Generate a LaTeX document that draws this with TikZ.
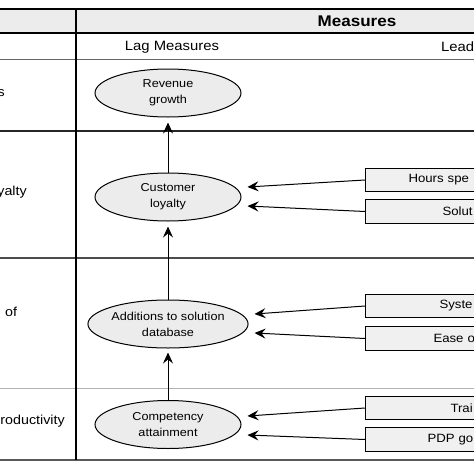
\documentclass[tikz,border=0pt]{standalone}
\usepackage{fontspec}
\setmainfont[FakeStretch=1.1]{Liberation Sans}
\usetikzlibrary{arrows.meta,calc,shapes.geometric}
\begin{document}
\begin{tikzpicture}[x=1pt,y=-1pt,
  ell/.style={ellipse, draw=black, line width=1pt, fill=gray!15, minimum width=146pt, minimum height=48pt, inner sep=0pt, align=center, font=\fontsize{11.5}{16}\selectfont},
  bx/.style={rectangle, draw=black, line width=1pt, fill=gray!12, anchor=west, minimum height=23.5pt, text width=200pt, align=left, inner sep=0pt, font=\fontsize{12}{14}\selectfont},
  arr/.style={-{Stealth[length=11pt,width=10pt,inset=4pt]}, line width=1pt},
  lbl/.style={inner sep=0pt, font=\fontsize{13}{15}\selectfont},
  hdr/.style={inner sep=0pt, font=\fontsize{13.5}{15}\selectfont}]
\useasboundingbox (0,0) rectangle (474,474);
\clip (0,0) rectangle (474,474);
% header fill
\fill[gray!15] (0,9) rectangle (474,33);
% table rules
\draw[line width=1.5pt] (0,9) -- (474,9);
\draw[line width=1.5pt] (0,33) -- (474,33);
\draw[line width=0.9pt, black!60] (0,59) -- (474,59);
\draw[line width=1.3pt, black!85] (0,131) -- (474,131);
\draw[line width=1.1pt, black!70] (0,258) -- (474,258);
\draw[line width=0.9pt, black!30] (0,388) -- (474,388);
\draw[line width=1.3pt, black!65] (0,460) -- (474,460);
\draw[line width=1.5pt] (76,9) -- (76,460);
% header texts
\node[hdr, font=\fontsize{15.5}{17}\bfseries] (meas) at (357,21) {Measures};
\node[hdr] (lag) at (172,47) {Lag Measures};
\node[hdr, anchor=west] (lead) at (441,47) {Lead};
% left column fragments
\node[lbl, anchor=east] (l1) at (5,93) {s};
\node[lbl, anchor=east] (l2) at (27,192) {yalty};
\node[lbl, anchor=west] (l3) at (5,312) {of};
\node[lbl, anchor=east] (l4) at (65,421) {roductivity};
% ellipses
\node[ell] (rev) at (168,93) {Revenue\\growth};
\node[ell] (cust) at (168,197) {Customer\\loyalty};
\node[ell] (add) at (168,324) {Additions to solution\\database};
\node[ell] (comp) at (168,424.5) {Competency\\attainment};
% boxes
\node[bx] (hours) at (365,180) {\hspace*{43pt}Hours spe};
\node[bx] (solut) at (365,211.5) {\hspace*{77pt}Solut};
\node[bx] (syst) at (365,306) {\hspace*{74pt}Syste};
\node[bx] (ease) at (365,338.5) {\hspace*{68pt}Ease o};
\node[bx] (trai) at (365,408) {\hspace*{85pt}Trai};
\node[bx] (pdp) at (365,439.5) {\hspace*{62pt}PDP go};
% arrow targets
\coordinate (t1) at ($(cust.east)+(6,-10)$);
\coordinate (t2) at ($(cust.east)+(6,9)$);
\coordinate (t3) at ($(add.east)+(6,-10)$);
\coordinate (t4) at ($(add.east)+(6,9)$);
\coordinate (t5) at ($(comp.east)+(6,-8.5)$);
\coordinate (t6) at ($(comp.east)+(6,10.5)$);
% vertical arrows
\draw[arr, shorten >=5pt] (cust.north) -- (rev.south);
\draw[arr, shorten >=5pt] (add.north) -- (cust.south);
\draw[arr, shorten >=4pt] (comp.north) -- (add.south);
% horizontal arrows
\draw[arr] (hours.west) -- (t1);
\draw[arr] (solut.west) -- (t2);
\draw[arr] (syst.west) -- (t3);
\draw[arr] (ease.west) -- (t4);
\draw[arr] (trai.west) -- (t5);
\draw[arr] (pdp.west) -- (t6);
\end{tikzpicture}
\end{document}
